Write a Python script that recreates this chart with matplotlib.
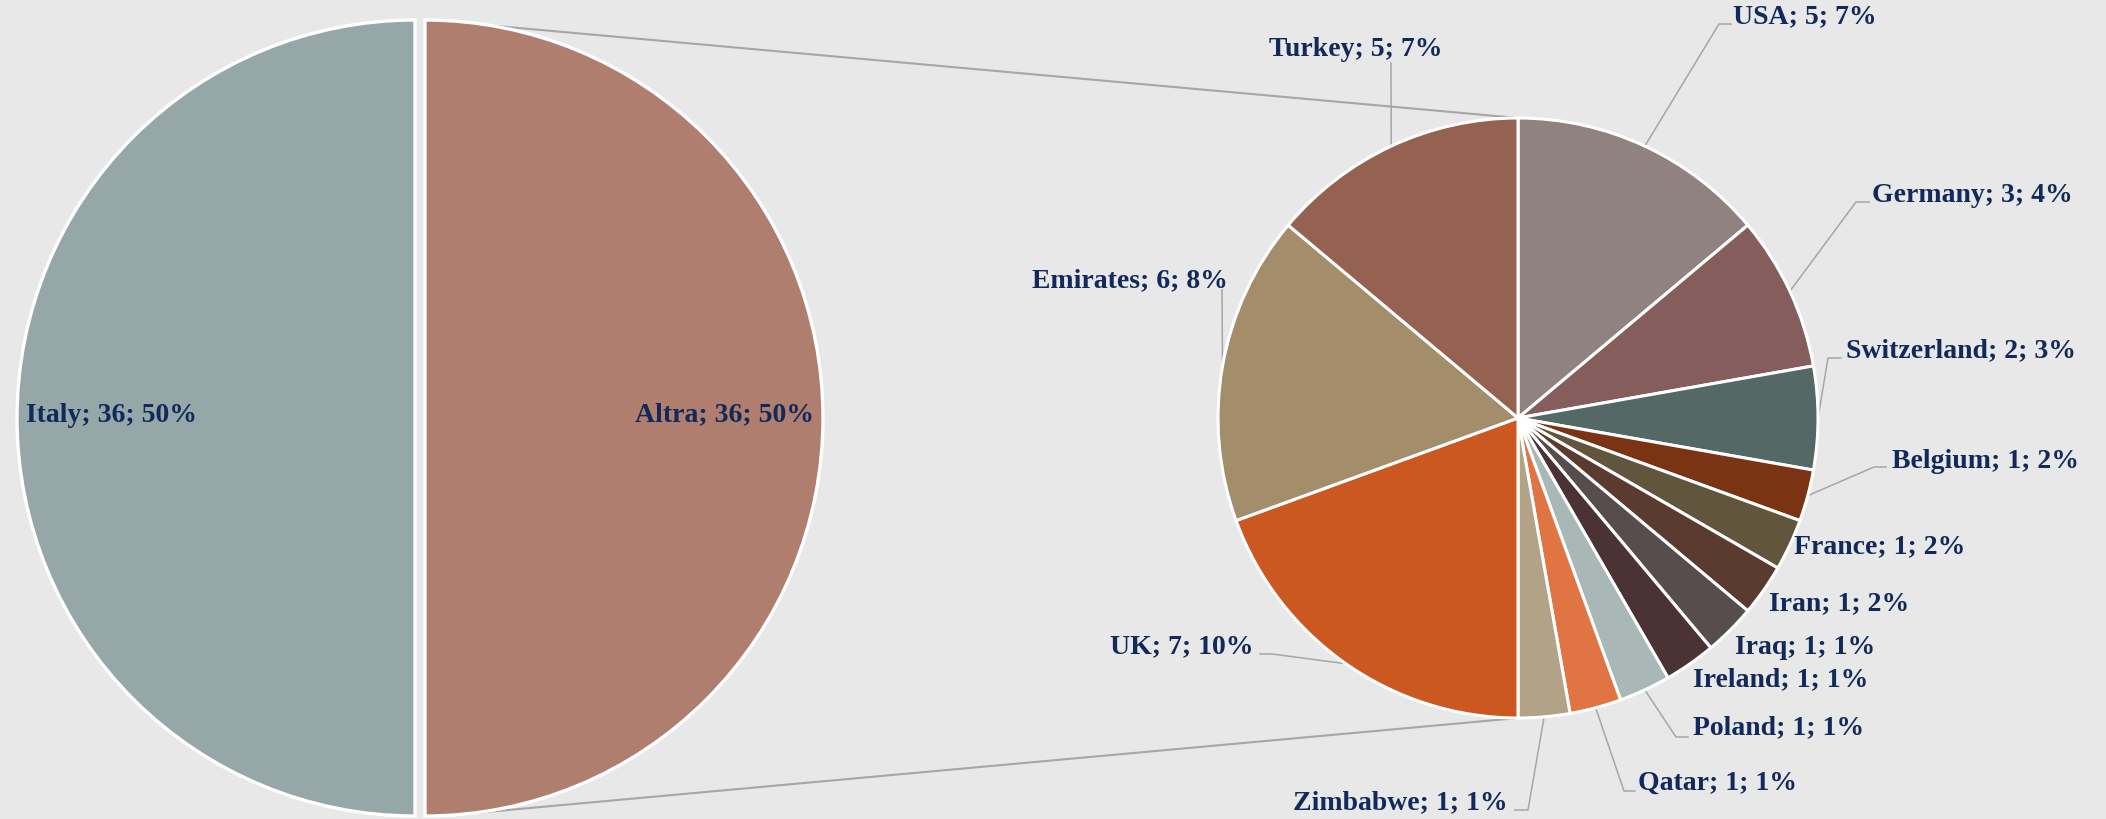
import numpy as np
import matplotlib
matplotlib.use("Agg")
import matplotlib.pyplot as plt

# ---------------- data ----------------
main_labels = ["Italy", "Altra"]
main_values = [36, 36]
main_pct = ["50%", "50%"]

sub_labels = ["USA", "Germany", "Switzerland", "Belgium", "France", "Iran", "Iraq",
              "Ireland", "Poland", "Qatar", "Zimbabwe", "UK", "Emirates", "Turkey"]
sub_values = [5, 3, 2, 1, 1, 1, 1, 1, 1, 1, 1, 7, 6, 5]
sub_pct = ["7%", "4%", "3%", "2%", "2%", "2%", "1%", "1%", "1%", "1%", "1%", "10%", "8%", "7%"]

main_colors = ["#95A8A7", "#AF7E6E"]
sub_colors = ["#8F8281", "#855D5D", "#546966", "#7B3413", "#62553E", "#5B3A2F", "#574D4D",
              "#4B3234", "#A9B7B7", "#E07442", "#B2A386", "#CB5820", "#A38D6A", "#956251"]

# ---------------- layout ----------------
W, H = 2106, 819
BG = "#E8E8E8"
TXT = "#12295B"
LEAD = "#A6A6A6"
FONT = "Liberation Serif"
FS = 20


def Y(ypx):
    return H - ypx


fig = plt.figure(figsize=(W / 100, H / 100), dpi=100, facecolor=BG)
ax = fig.add_axes([0, 0, 1, 1])
ax.set_facecolor(BG)

# main pie (explode is in data units = pixels here)
mc = (420, Y(418))
mr = 398
mw, _ = ax.pie(main_values, center=mc, radius=mr, startangle=90, counterclock=True,
               colors=main_colors, explode=[5, 5],
               wedgeprops=dict(edgecolor="white", linewidth=2.4))

# sub pie
sc = (1518, Y(418))
sr = 300
sw, _ = ax.pie(sub_values, center=sc, radius=sr, startangle=90, counterclock=False,
               colors=sub_colors,
               wedgeprops=dict(edgecolor="white", linewidth=2.2))

ax.set_xlim(0, W)
ax.set_ylim(0, H)
ax.set_aspect("equal")
ax.axis("off")

# connector lines from the Altra slice to the secondary pie
altra = mw[1]
acx, acy = altra.center
ang_top = np.deg2rad(90 - 9.5)
ang_bot = np.deg2rad(-90 + 6.5)
p_top = (acx + altra.r * np.cos(ang_top), acy + altra.r * np.sin(ang_top))
p_bot = (acx + altra.r * np.cos(ang_bot), acy + altra.r * np.sin(ang_bot))
ax.plot([p_top[0], sc[0]], [p_top[1], sc[1] + sr], color=LEAD, lw=1.5, zorder=0.5)
ax.plot([p_bot[0], sc[0]], [p_bot[1], sc[1] - sr], color=LEAD, lw=1.5, zorder=0.5)

tkw = dict(fontfamily=FONT, fontweight="bold", fontsize=FS, color=TXT, va="center")

# main labels
ax.text(26, Y(415), f"{main_labels[0]}; {main_values[0]}; {main_pct[0]}", ha="left", **tkw)
ax.text(814, Y(415), f"{main_labels[1]}; {main_values[1]}; {main_pct[1]}", ha="right", **tkw)

# sub labels: (text x, text y, ha, leader elbow, leader end) in pixel coords
layout = {
    "USA": (1733, 17, "left", (1719, 24), (1731, 24)),
    "Germany": (1872, 195, "left", (1856, 202), (1869, 202)),
    "Switzerland": (1846, 351, "left", (1828, 358), (1841, 358)),
    "Belgium": (1892, 461, "left", (1874, 467), (1886, 467)),
    "France": (1794, 547, "left", None, None),
    "Iran": (1769, 604, "left", None, None),
    "Iraq": (1735, 647, "left", None, None),
    "Ireland": (1693, 680, "left", None, None),
    "Poland": (1693, 728, "left", (1676, 737), (1688, 737)),
    "Qatar": (1638, 783, "left", (1624, 791), (1635, 791)),
    "Zimbabwe": (1508, 803, "right", (1528, 810), (1515, 810)),
    "UK": (1254, 647, "right", (1272, 654), (1260, 654)),
    "Emirates": (1228, 281, "right", (1222, 290), None),
    "Turkey": (1356, 49, "center", (1391, 63), None),
}

for w, lab, val, pct in zip(sw, sub_labels, sub_values, sub_pct):
    tx, ty, ha, elbow, end = layout[lab]
    ax.text(tx, Y(ty), f"{lab}; {val}; {pct}", ha=ha, **tkw)
    if elbow is not None:
        mid = np.deg2rad((w.theta1 + w.theta2) / 2)
        px = w.center[0] + w.r * np.cos(mid)
        py = w.center[1] + w.r * np.sin(mid)
        xs = [px, elbow[0]]
        ys = [py, Y(elbow[1])]
        if end is not None:
            xs.append(end[0])
            ys.append(Y(end[1]))
        ax.plot(xs, ys, color=LEAD, lw=1.1, zorder=0.5)

fig.savefig("out.png", dpi=100, facecolor=BG)
